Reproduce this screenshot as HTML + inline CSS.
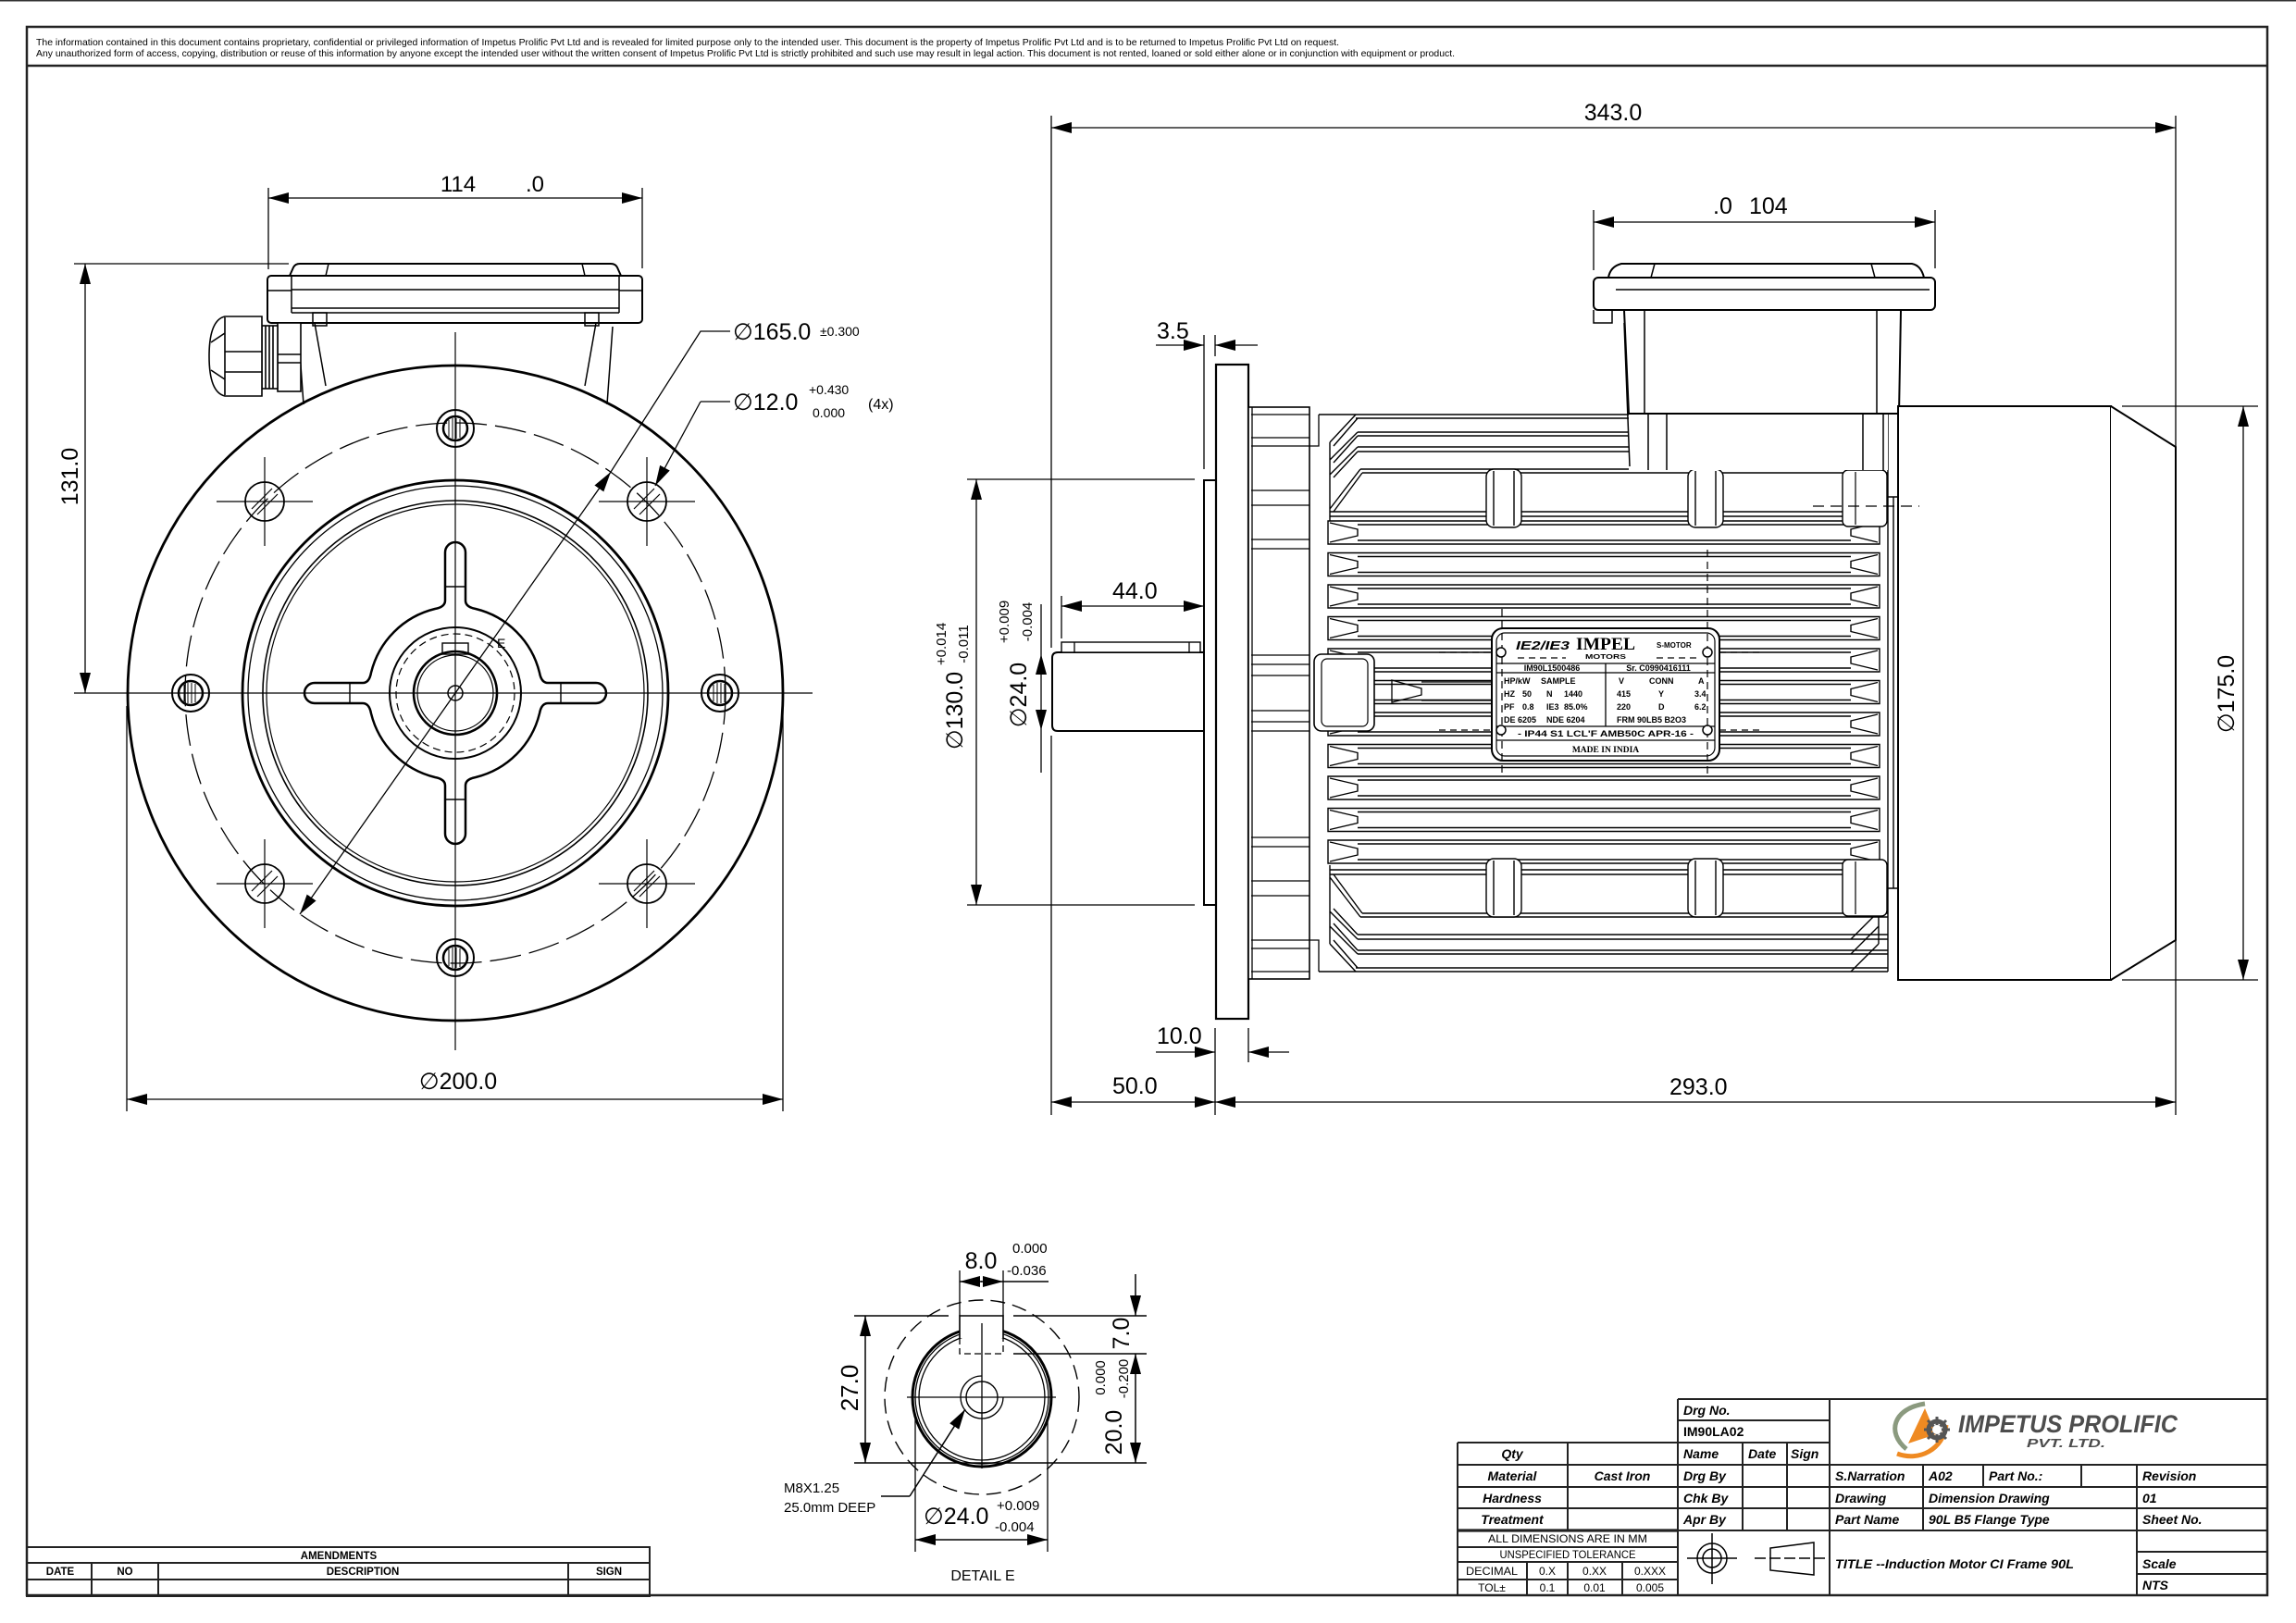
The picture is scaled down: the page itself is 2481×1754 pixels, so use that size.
<!DOCTYPE html>
<html><head><meta charset="utf-8">
<style>
html,body{margin:0;padding:0;background:#fff;}
svg{display:block;}
text{font-family:"Liberation Sans",Arial,"DejaVu Sans",sans-serif;fill:#000;}
.tb{font-weight:bold;font-style:italic;font-size:14px;}
.np{font-weight:bold;font-size:9px;}
.serif{font-family:"Liberation Serif","DejaVu Serif",serif;}
</style></head><body>
<svg width="2481" height="1754" viewBox="0 0 2481 1754" xmlns="http://www.w3.org/2000/svg">
<defs>
<marker id="a" markerUnits="userSpaceOnUse" markerWidth="22" markerHeight="12" refX="22" refY="6" orient="auto-start-reverse" viewBox="0 0 22 12"><path d="M0,0L22,6L0,12z" fill="#000"/></marker>
<g id="band" fill="none" stroke="#000" stroke-width="1.4">
<path d="M1435,0H2031V25H1435Z M1467,4H2000 M1467,21H2000 M1437,2L1467,9V16L1437,23 M2029,2L2000,9V16L2029,23"/>
</g>
<g id="th" fill="none" stroke="#000"><circle r="20" stroke-width="2"/><circle r="13" stroke-width="2.5"/><path d="M-7,-9V9M-3,-11V11M1,-11V11M5,-10V10" stroke-width="1"/></g>
<g id="bh" fill="none" stroke="#000"><circle r="21" stroke-width="1.8"/><path d="M-52,0H52M0,-48V48" stroke-width="1.2"/><path d="M-14,8L8,-14M-8,14L14,-8" stroke-width="1.2"/></g>
<g id="lug" fill="#fff" stroke="#000" stroke-width="1.4"><rect x="-19" y="0" width="38" height="63" rx="8"/><path d="M-11,2V61M11,2V61" fill="none"/></g>
</defs>
<rect width="2481" height="1754" fill="#fff"/>
<rect x="0" y="0" width="2481" height="1.5" fill="#333"/>

<!-- FRAME -->
<g fill="none" stroke="#222" stroke-width="2.5">
<rect x="29" y="29" width="2421" height="1695"/>
<line x1="29" y1="71" x2="2450" y2="71"/>
</g>
<text x="39" y="49" font-size="10.5" textLength="1408" lengthAdjust="spacingAndGlyphs">The information contained in this document contains proprietary, confidential or privileged information of Impetus Prolific Pvt Ltd and is revealed for limited purpose only to the intended user.  This document is the property of Impetus Prolific Pvt Ltd and is to be returned to Impetus Prolific Pvt Ltd on request.</text>
<text x="39" y="61" font-size="10.5" textLength="1533" lengthAdjust="spacingAndGlyphs">Any unauthorized form of access, copying, distribution or reuse of this information by anyone except the intended user without the written consent of Impetus Prolific Pvt Ltd  is strictly prohibited and such use may result in legal action. This document is not rented, loaned or sold either alone or in conjunction with equipment or product.</text>

<!-- ================= FRONT VIEW ================= -->
<g fill="none" stroke="#000">
<circle cx="492" cy="749" r="354" stroke-width="2.8"/>
<circle cx="492" cy="749" r="292" stroke-width="1.3" stroke-dasharray="34 9"/>
<circle cx="492" cy="749" r="230" stroke-width="2.8"/>
<circle cx="492" cy="749" r="224" stroke-width="1.3"/>
<circle cx="492" cy="749" r="208" stroke-width="1.6"/>
<circle cx="492" cy="749" r="204" stroke-width="1.2"/>
<path stroke-width="2.5" fill="#fff" d="M470,658 A94,94 0 0 0 401,727 Q399,738 392,738 L340,738 A11,11 0 0 0 340,760 L392,760 Q399,760 401,771 A94,94 0 0 0 470,840 Q481,842 481,849 L481,901 A11,11 0 0 0 503,901 L503,849 Q503,842 514,840 A94,94 0 0 0 583,771 Q585,760 592,760 L644,760 A11,11 0 0 0 644,738 L592,738 Q585,738 583,727 A94,94 0 0 0 514,658 Q503,656 503,649 L503,597 A11,11 0 0 0 481,597 L481,649 Q481,656 470,658 Z"/>
<path stroke-width="1.4" d="M378,738V760 M606,738V760 M481,634H503 M481,864H503"/>
<circle cx="492" cy="749" r="71" stroke-width="2"/>
<circle cx="492" cy="749" r="64" stroke-width="1.2" stroke-dasharray="8 5"/>
<circle cx="492" cy="749" r="45" stroke-width="2.6"/>
<circle cx="492" cy="749" r="41" stroke-width="1.2"/>
<circle cx="492" cy="749" r="8" stroke-width="1.5"/>
<rect x="478" y="695" width="28" height="12" stroke-width="1.4"/>
<path stroke-width="1.2" d="M80,749H878 M492,359V1135"/>
</g>
<use href="#th" x="492" y="463"/>
<use href="#th" x="492" y="1035"/>
<use href="#th" x="206" y="749"/>
<use href="#th" x="778" y="749"/>
<use href="#bh" x="286" y="542"/>
<use href="#bh" x="699" y="542"/>
<use href="#bh" x="286" y="955"/>
<use href="#bh" x="699" y="955"/>
<text x="537" y="700" font-size="14">E</text>

<!-- terminal box front -->
<g fill="#fff" stroke="#000" stroke-width="2">
<path d="M313,298 L317,289 Q319,285 324,285 L660,285 Q665,285 667,289 L671,298 Z"/>
<rect x="289" y="298" width="405" height="51" rx="4"/>
</g>
<g fill="none" stroke="#000" stroke-width="1.5">
<path d="M315,298V338 M669,298V338 M315,313H669 M315,333H669 M315,338H669 M289,314H315 M669,314H694"/>
<path d="M355,285L352,298 M629,285L632,298"/>
<path d="M322,353L328,437 M340,349L352,417 M662,353L656,437 M644,349L632,417"/>
<rect x="338" y="338" width="15" height="14"/>
<rect x="632" y="338" width="15" height="14"/>
</g>
<!-- gland -->
<g fill="#fff" stroke="#000" stroke-width="1.6">
<rect x="300" y="349" width="25" height="74"/>
<rect x="283" y="352" width="17" height="68"/>
<path d="M283,342 L243,342 Q226,346 226,385 Q226,424 243,428 L283,428 Z"/>
<path fill="none" d="M243,343V427 M243,380H283 M243,402H283 M287,352V420 M291,352V420 M295,352V420 M300,383H325 M300,392H325 M228,370L243,360 M228,400L243,410"/>
</g>

<!-- front dims -->
<g fill="none" stroke="#000" stroke-width="1.3">
<line x1="290" y1="214" x2="694" y2="214" marker-start="url(#a)" marker-end="url(#a)"/>
<path d="M290,203V291 M694,203V290"/>
<line x1="92" y1="285" x2="92" y2="749" marker-start="url(#a)" marker-end="url(#a)"/>
<path d="M80,285H312"/>
<line x1="137" y1="1188" x2="846" y2="1188" marker-start="url(#a)" marker-end="url(#a)"/>
<path d="M137,763V1201 M846,763V1201"/>
<line x1="660" y1="510" x2="324" y2="988" marker-start="url(#a)" marker-end="url(#a)"/>
<path d="M660,510L757,358H789"/>
<line x1="757" y1="434" x2="708" y2="525" marker-end="url(#a)"/>
<path d="M757,434H789"/>
</g>
<text x="495" y="207" font-size="24" text-anchor="middle">114</text>
<text x="578" y="207" font-size="24" text-anchor="middle">.0</text>
<text transform="translate(84,515) rotate(-90)" font-size="25" text-anchor="middle">131.0</text>
<text x="495" y="1177" font-size="25" text-anchor="middle">∅200.0</text>
<text x="792" y="367" font-size="25">∅165.0</text>
<text x="886" y="363" font-size="14">±0.300</text>
<text x="792" y="443" font-size="25">∅12.0</text>
<text x="874" y="426" font-size="14">+0.430</text>
<text x="878" y="451" font-size="14">0.000</text>
<text x="938" y="442" font-size="16">(4x)</text>

<!-- ================= SIDE VIEW ================= -->
<g fill="#fff" stroke="#000" stroke-width="2">
<path d="M1143,705 H1314 V790 H1143 Q1137,790 1137,784 V711 Q1137,705 1143,705 Z"/>
<rect x="1147" y="694" width="150" height="11" stroke-width="1.4"/>
<rect x="1301" y="519" width="13" height="459"/>
<rect x="1314" y="394" width="35" height="707" stroke-width="2.2"/>
<rect x="1349" y="440" width="66" height="618" stroke-width="1.6"/>
</g>
<g fill="none" stroke="#000" stroke-width="1.3">
<path d="M1161,694V705 M1285,694V705"/>
<path d="M1353,440V1058 M1352,448H1415 M1352,473H1415 M1352,482H1415 M1352,530H1415 M1352,546H1415 M1352,583H1415 M1352,593H1415 M1352,708H1415 M1352,718H1415 M1352,730H1415 M1352,1050H1415 M1352,1025H1415 M1352,1016H1415 M1352,968H1415 M1352,952H1415 M1352,915H1415 M1352,905H1415 M1352,790H1415 M1352,780H1415 M1352,768H1415"/>
<path d="M1425,448V482H1415 M1425,1050V1016H1415"/>
</g>

<use href="#band" y="563"/>
<use href="#band" y="597.5"/>
<use href="#band" y="632"/>
<use href="#band" y="666.5"/>
<use href="#band" y="701"/>
<use href="#band" y="735.5"/>
<use href="#band" y="770"/>
<use href="#band" y="804.5"/>
<use href="#band" y="839"/>
<use href="#band" y="873.5"/>
<use href="#band" y="908"/>

<g fill="none" stroke="#000" stroke-width="1.4">
<path d="M1425,448H2040 M1465,452H2040 M1467,467H2040 M1467,471H2040 M1467,483H2040 M1467,488H2040 M1470,507H2040 M1472,511H2040 M1437,553H2040 M1437,558H2040"/>
<path d="M1437,478L1465,448 M1441,482L1467,452 M1437,497L1467,467 M1441,500L1467,471 M1437,513L1467,483 M1441,516L1467,488 M1437,550L1470,507 M1441,553L1472,511 M1437,478V563"/>
<path d="M1425,1050H2040 M1465,1046H2040 M1467,1031H2040 M1467,1027H2040 M1467,1015H2040 M1467,1010H2040 M1470,991H2040 M1472,987H2040 M1437,945H2040 M1437,940H2040"/>
<path d="M1437,1020L1465,1050 M1441,1016L1467,1046 M1437,1001L1467,1031 M1441,998L1467,1027 M1437,985L1467,1015 M1441,982L1467,1010 M1437,948L1470,991 M1441,945L1472,987 M1437,1020V935"/>
<path d="M2000,1050L2030,1020 M2000,1031L2030,1001 M2000,1015L2030,985 M2030,935V1020"/>
<path d="M2040,448V1050 M2046,537V960 M2040,537H2051 M2040,960H2051"/>
</g>
<use href="#lug" x="1625" y="507"/>
<use href="#lug" x="1843" y="507"/>
<use href="#lug" x="1625" y="928"/>
<use href="#lug" x="1843" y="928"/>
<g fill="#fff" stroke="#000" stroke-width="1.4">
<rect x="1991" y="508" width="48" height="61" rx="6"/>
<rect x="1991" y="929" width="48" height="61" rx="6"/>
</g>
<path d="M2005,510V567 M2005,931V988" stroke="#000" stroke-width="1.2"/>

<g fill="#fff" stroke="#000" stroke-width="1.6">
<rect x="1420" y="707" width="65" height="83" rx="8"/>
<rect x="1428" y="712" width="50" height="73" rx="6" fill="none" stroke-width="1.2"/>
<path d="M1504,735 L1536,744 V751 L1504,759 Z" fill="none" stroke-width="1.3"/>
<path d="M1536,737H1612 M1536,757H1612" fill="none" stroke-width="1.3"/>
</g>

<!-- terminal box side -->
<g fill="#fff" stroke="#000" stroke-width="2">
<rect x="1760" y="445" width="280" height="63" stroke="none"/>
<path d="M1738,300 Q1740,288 1752,285 L2066,285 Q2076,287 2079,300 Z"/>
<rect x="1722" y="300" width="369" height="35" rx="5"/>
<path d="M1755,335 L2054,335 L2052,447 L1760,447 Z"/>
</g>
<g fill="none" stroke="#000" stroke-width="1.5">
<path d="M1722,335V349H1742V335 M1777,335V447 M2028,335V447 M1746,313H2085 M1788,285L1784,300 M2022,285L2026,300"/>
<path d="M1781,447V508 M1801,447V508 M2013,447V508 M2035,447V508 M1755,349L1761,504"/>
</g>

<!-- fan cowl -->
<g fill="#fff" stroke="#000" stroke-width="2">
<rect x="2051" y="439" width="230" height="620"/>
<path d="M2281,439 L2351,483 V1016 L2281,1059"/>
</g>
<path d="M1959,547H2074" stroke="#000" stroke-width="1.2" stroke-dasharray="12 7"/>

<!-- nameplate -->
<g>
<rect x="1612" y="679" width="246" height="143" rx="12" fill="#fff" stroke="#000" stroke-width="2"/>
<rect x="1617" y="684" width="236" height="133" rx="9" fill="none" stroke="#000" stroke-width="1.2"/>
<path d="M1617,717H1853 M1617,727H1853 M1617,785H1853 M1617,800H1853 M1735,717V785" stroke="#000" stroke-width="1.3" fill="none"/>
<path d="M1623,658V838 M1845,594V838" stroke="#000" stroke-width="1.2" stroke-dasharray="8 5" fill="none"/>
<path d="M1555,705H1612 M1555,789H1612 M1858,705H1905 M1858,789H1905 M1640,711H1692 M1790,711H1835" stroke="#000" stroke-width="1.2" stroke-dasharray="7 5" fill="none"/>
<g fill="#fff" stroke="#000" stroke-width="1.5"><circle cx="1622" cy="705" r="5"/><circle cx="1622" cy="789" r="5"/><circle cx="1845" cy="705" r="5"/><circle cx="1845" cy="789" r="5"/></g>
<text x="1638" y="702" font-size="13" font-weight="bold" font-style="italic" textLength="58" lengthAdjust="spacingAndGlyphs">IE2/IE3</text>
<text class="serif" x="1703" y="702" font-size="19" font-weight="bold" textLength="64" lengthAdjust="spacingAndGlyphs">IMPEL</text>
<text x="1713" y="712" font-size="7.5" font-weight="bold" textLength="44" lengthAdjust="spacingAndGlyphs">MOTORS</text>
<text x="1790" y="700" font-size="8" font-weight="bold">S-MOTOR</text>
<text class="np" x="1677" y="725" text-anchor="middle">IM90L1500486</text>
<text class="np" x="1792" y="725" text-anchor="middle">Sr. C0990416111</text>
<text class="np" x="1625" y="739">HP/kW</text><text class="np" x="1665" y="739">SAMPLE</text>
<text class="np" x="1625" y="753">HZ</text><text class="np" x="1645" y="753">50</text><text class="np" x="1671" y="753">N</text><text class="np" x="1690" y="753">1440</text>
<text class="np" x="1625" y="767">PF</text><text class="np" x="1645" y="767">0.8</text><text class="np" x="1671" y="767">IE3</text><text class="np" x="1690" y="767">85.0%</text>
<text class="np" x="1625" y="781">DE 6205</text><text class="np" x="1671" y="781">NDE 6204</text>
<text class="np" x="1749" y="739">V</text><text class="np" x="1782" y="739">CONN</text><text class="np" x="1835" y="739">A</text>
<text class="np" x="1747" y="753">415</text><text class="np" x="1792" y="753">Y</text><text class="np" x="1831" y="753">3.4</text>
<text class="np" x="1747" y="767">220</text><text class="np" x="1792" y="767">D</text><text class="np" x="1831" y="767">6.2</text>
<text class="np" x="1747" y="781">FRM  90LB5  B2O3</text>
<text class="np" x="1735" y="796" text-anchor="middle" textLength="190" lengthAdjust="spacingAndGlyphs">-  IP44   S1   LCL'F   AMB50C   APR-16  -</text>
<text class="serif" x="1735" y="813" font-size="9.5" font-weight="bold" text-anchor="middle">MADE IN INDIA</text>
</g>

<!-- side dims -->
<g fill="none" stroke="#000" stroke-width="1.3">
<line x1="1136" y1="138" x2="2351" y2="138" marker-start="url(#a)" marker-end="url(#a)"/>
<path d="M1136,125V700 M1136,795V1205 M2351,125V1205"/>
<line x1="1722" y1="240" x2="2091" y2="240" marker-start="url(#a)" marker-end="url(#a)"/>
<path d="M1722,227V292 M2091,227V290"/>
<line x1="1249" y1="373" x2="1301" y2="373" marker-end="url(#a)"/>
<line x1="1359" y1="373" x2="1313" y2="373" marker-end="url(#a)"/>
<path d="M1301,362V507 M1313,362V385"/>
<line x1="1147" y1="655" x2="1301" y2="655" marker-start="url(#a)" marker-end="url(#a)"/>
<path d="M1147,644V690"/>
<line x1="1055" y1="518" x2="1055" y2="978" marker-start="url(#a)" marker-end="url(#a)"/>
<path d="M1045,518H1291 M1045,978H1291"/>
<line x1="1125" y1="748" x2="1125" y2="707" marker-end="url(#a)"/>
<line x1="1125" y1="748" x2="1125" y2="789" marker-end="url(#a)"/>
<path d="M1125,653V707 M1125,789V835"/>
<line x1="1249" y1="1137" x2="1313" y2="1137" marker-end="url(#a)"/>
<line x1="1393" y1="1137" x2="1349" y2="1137" marker-end="url(#a)"/>
<path d="M1313,1111V1205 M1349,1111V1148"/>
<line x1="1136" y1="1191" x2="1313" y2="1191" marker-start="url(#a)" marker-end="url(#a)"/>
<line x1="1313" y1="1191" x2="2351" y2="1191" marker-start="url(#a)" marker-end="url(#a)"/>
<line x1="2424" y1="439" x2="2424" y2="1059" marker-start="url(#a)" marker-end="url(#a)"/>
<path d="M2293,439H2440 M2293,1059H2440"/>
</g>
<text x="1743" y="130" font-size="25" text-anchor="middle">343.0</text>
<text x="1851" y="231" font-size="25">.0</text>
<text x="1890" y="231" font-size="25">104</text>
<text x="1250" y="366" font-size="25">3.5</text>
<text x="1202" y="647" font-size="25">44.0</text>
<text x="1250" y="1128" font-size="25">10.0</text>
<text x="1202" y="1182" font-size="25">50.0</text>
<text x="1804" y="1183" font-size="25">293.0</text>
<text transform="translate(1040,768) rotate(-90)" font-size="25" text-anchor="middle">∅130.0</text>
<text transform="translate(1022,696) rotate(-90)" font-size="15" text-anchor="middle">+0.014</text>
<text transform="translate(1046,696) rotate(-90)" font-size="15" text-anchor="middle">-0.011</text>
<text transform="translate(1109,751) rotate(-90)" font-size="25" text-anchor="middle">∅24.0</text>
<text transform="translate(1090,672) rotate(-90)" font-size="15" text-anchor="middle">+0.009</text>
<text transform="translate(1115,672) rotate(-90)" font-size="15" text-anchor="middle">-0.004</text>
<text transform="translate(2414,750) rotate(-90)" font-size="25" text-anchor="middle">∅175.0</text>

<!-- ================= DETAIL E ================= -->
<g fill="none" stroke="#000">
<circle cx="1061" cy="1510" r="105" stroke-width="1.4" stroke-dasharray="16 8"/>
<circle cx="1061" cy="1510" r="75" stroke-width="3"/>
<circle cx="1061" cy="1510" r="72" stroke-width="1.3"/>
<circle cx="1061" cy="1510" r="68" stroke-width="1.3"/>
<circle cx="1061" cy="1510" r="17" stroke-width="1.4"/>
<path d="M1084,1510 A23,23 0 1 1 1061,1487" stroke-width="1.3"/>
<rect x="1037" y="1422" width="47" height="24" fill="#fff" stroke="none"/>
<path d="M1037,1446V1422H1084V1446" stroke-width="1.6"/>
<path d="M1037,1446V1463H1084V1446" stroke-width="1.3" stroke-dasharray="7 4"/>
<path d="M980,1510H1141 M1061,1430V1587" stroke-width="1.3"/>
<path d="M923,1422H1025 M1095,1422H1239 M1095,1463H1239 M923,1581H1239" stroke-width="1.5"/>
<path d="M1037,1373V1422 M1084,1373V1422 M989,1533V1677 M1132,1533V1677" stroke-width="1.3"/>
</g>
<g fill="none" stroke="#000" stroke-width="1.5">
<line x1="935" y1="1422" x2="935" y2="1581" marker-start="url(#a)" marker-end="url(#a)"/>
<line x1="1061" y1="1385" x2="1037" y2="1385" marker-end="url(#a)"/>
<line x1="1060" y1="1385" x2="1084" y2="1385" marker-end="url(#a)"/>
<path d="M1084,1385H1133"/>
<line x1="1227" y1="1377" x2="1227" y2="1422" marker-end="url(#a)"/>
<line x1="1227" y1="1510" x2="1227" y2="1463" marker-end="url(#a)"/>
<line x1="1227" y1="1510" x2="1227" y2="1581" marker-end="url(#a)"/>
<line x1="989" y1="1664" x2="1132" y2="1664" marker-start="url(#a)" marker-end="url(#a)"/>
<line x1="983" y1="1617" x2="1043" y2="1523" marker-end="url(#a)"/>
<path d="M952,1617H983"/>
</g>
<text x="1060" y="1371" font-size="25" text-anchor="middle">8.0</text>
<text x="1094" y="1354" font-size="15">0.000</text>
<text x="1088" y="1378" font-size="15">-0.036</text>
<text transform="translate(927,1500) rotate(-90)" font-size="26" text-anchor="middle">27.0</text>
<text transform="translate(1220,1441) rotate(-90)" font-size="25" text-anchor="middle">7.0</text>
<text transform="translate(1212,1548) rotate(-90)" font-size="25" text-anchor="middle">20.0</text>
<text transform="translate(1194,1489) rotate(-90)" font-size="15" text-anchor="middle">0.000</text>
<text transform="translate(1219,1490) rotate(-90)" font-size="15" text-anchor="middle">-0.200</text>
<text x="998" y="1647" font-size="25">∅24.0</text>
<text x="1077" y="1632" font-size="15">+0.009</text>
<text x="1075" y="1655" font-size="15">-0.004</text>
<text x="847" y="1613" font-size="15">M8X1.25</text>
<text x="847" y="1634" font-size="15">25.0mm DEEP</text>
<text x="1062" y="1708" font-size="16" text-anchor="middle">DETAIL E</text>

<!-- ================= AMENDMENTS ================= -->
<g fill="none" stroke="#222" stroke-width="2">
<rect x="29" y="1672" width="673" height="53"/>
<path d="M29,1689H702 M29,1707H702 M99,1689V1725 M171,1689V1725 M614,1689V1725"/>
</g>
<g font-size="11.5" font-weight="bold" text-anchor="middle">
<text x="366" y="1685">AMENDMENTS</text>
<text x="65" y="1702">DATE</text>
<text x="135" y="1702">NO</text>
<text x="392" y="1702">DESCRIPTION</text>
<text x="658" y="1702">SIGN</text>
</g>

<!-- ================= TITLE BLOCK ================= -->
<g fill="none" stroke="#222" stroke-width="2">
<path d="M1813,1512H2450 M1813,1512V1724 M1977,1512V1724 M1813,1535H1977 M1575,1559H1977 M1575,1559V1724 M1575,1583H2450 M1575,1607H2450 M1575,1630H2450 M1813,1654H2450"/>
<path d="M1575,1654H1813" stroke-width="3.2"/>
<path d="M1694,1559V1654 M1883,1559V1654 M1931,1559V1654 M2078,1583V1654 M2143,1583V1607 M2249,1583V1607 M2309,1583V1724 M2309,1677H2450 M2309,1701H2450"/>
<path d="M1575,1672H1813 M1575,1688H1813 M1575,1707H1813 M1650,1688V1724 M1694,1688V1724 M1753,1688V1724"/>
</g>
<text class="tb" x="1819" y="1529">Drg No.</text>
<text class="tb" x="1819" y="1552" style="font-style:normal">IM90LA02</text>
<text class="tb" x="1634" y="1576" text-anchor="middle">Qty</text>
<text class="tb" x="1819" y="1576">Name</text>
<text class="tb" x="1889" y="1576">Date</text>
<text class="tb" x="1935" y="1576">Sign</text>
<text class="tb" x="1634" y="1600" text-anchor="middle">Material</text>
<text class="tb" x="1753" y="1600" text-anchor="middle">Cast Iron</text>
<text class="tb" x="1819" y="1600">Drg By</text>
<text class="tb" x="1983" y="1600">S.Narration</text>
<text class="tb" x="2084" y="1600">A02</text>
<text class="tb" x="2149" y="1600">Part No.:</text>
<text class="tb" x="2315" y="1600">Revision</text>
<text class="tb" x="1634" y="1624" text-anchor="middle">Hardness</text>
<text class="tb" x="1819" y="1624">Chk By</text>
<text class="tb" x="1983" y="1624">Drawing</text>
<text class="tb" x="2084" y="1624">Dimension Drawing</text>
<text class="tb" x="2315" y="1624">01</text>
<text class="tb" x="1634" y="1647" text-anchor="middle">Treatment</text>
<text class="tb" x="1819" y="1647">Apr By</text>
<text class="tb" x="1983" y="1647">Part Name</text>
<text class="tb" x="2084" y="1647">90L B5 Flange Type</text>
<text class="tb" x="2315" y="1647">Sheet No.</text>
<text class="tb" x="1983" y="1695" textLength="258" lengthAdjust="spacingAndGlyphs">TITLE --Induction Motor CI Frame 90L</text>
<text class="tb" x="2315" y="1695">Scale</text>
<text class="tb" x="2315" y="1718">NTS</text>
<g font-size="12" text-anchor="middle">
<text x="1694" y="1667" textLength="172" lengthAdjust="spacingAndGlyphs">ALL DIMENSIONS ARE IN MM</text>
<text x="1694" y="1684" textLength="147" lengthAdjust="spacingAndGlyphs">UNSPECIFIED TOLERANCE</text>
<text x="1612" y="1702" textLength="56" lengthAdjust="spacingAndGlyphs">DECIMAL</text>
<text x="1672" y="1702">0.X</text>
<text x="1723" y="1702">0.XX</text>
<text x="1783" y="1702">0.XXX</text>
<text x="1612" y="1720">TOL±</text>
<text x="1672" y="1720">0.1</text>
<text x="1723" y="1720">0.01</text>
<text x="1783" y="1720">0.005</text>
</g>
<g fill="none" stroke="#000" stroke-width="1.5">
<circle cx="1850" cy="1684" r="16"/>
<circle cx="1850" cy="1684" r="10"/>
<path d="M1823,1684H1877 M1850,1657V1712"/>
<path d="M1913,1673 L1960,1667 V1702 L1913,1697 Z"/>
<path d="M1896,1684H1975" stroke-dasharray="12 4"/>
</g>
<!-- logo -->
<g>
<path d="M2060,1566 C2038,1548 2046,1522 2080,1517" fill="none" stroke="#8b9a7f" stroke-width="5"/>
<path d="M2050,1571 C2074,1580 2100,1566 2103,1540" fill="none" stroke="#ef8a22" stroke-width="5"/>
<path d="M2062,1560 L2080,1522 L2092,1550 Z" fill="#ef8a22"/>
<circle cx="2093" cy="1545" r="9" fill="none" stroke="#555" stroke-width="5"/>
<path d="M2093,1531V1559 M2079,1545H2107 M2083,1535L2103,1555 M2103,1535L2083,1555" stroke="#555" stroke-width="3"/>
<circle cx="2093" cy="1545" r="5" fill="#fff"/>
<text x="2116" y="1548" font-size="27" font-weight="bold" font-style="italic" style="fill:#4d4d4d" textLength="237" lengthAdjust="spacingAndGlyphs">IMPETUS PROLIFIC</text>
<text x="2190" y="1564" font-size="13" font-weight="bold" font-style="italic" style="fill:#4d4d4d" textLength="85" lengthAdjust="spacingAndGlyphs">PVT. LTD.</text>
</g>
</svg>
</body></html>
